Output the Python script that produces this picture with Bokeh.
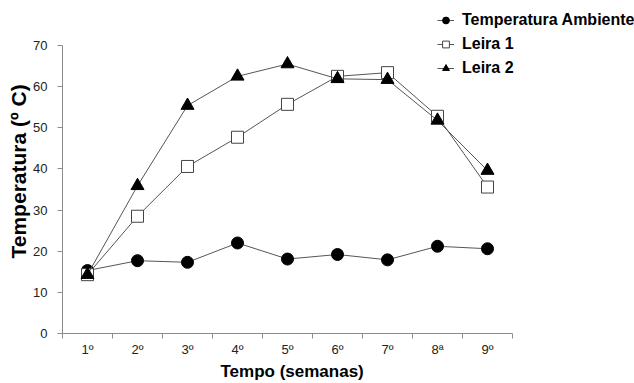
from bokeh.plotting import figure
from bokeh.models import FixedTicker, Legend, LegendItem, Title
from bokeh.embed import file_html
from bokeh.resources import INLINE

semanas = ["1º", "2º", "3º", "4º", "5º", "6º", "7º", "8ª", "9º"]
ambiente = [15.3, 17.7, 17.3, 22.0, 18.1, 19.2, 17.9, 21.2, 20.6]
leira1 = [14.3, 28.5, 40.6, 47.7, 55.7, 62.5, 63.4, 52.8, 35.6]
leira2 = [14.3, 35.9, 55.4, 62.5, 65.5, 61.9, 61.7, 51.8, 39.6]
y_ticks = [0, 10, 20, 30, 40, 50, 60, 70]

x = list(range(1, len(semanas) + 1))

# frame extended to top/right so the legend (outside the axes area) is not clipped;
# axis bounds keep the axes lines at their original extent
y_max = 70
frame_h, frame_w = 333, 572
px_per_y = 288 / y_max
px_per_x = 50
p = figure(width=634, height=383, output_backend="svg", toolbar_location=None,
           x_range=(0.5, 0.5 + frame_w / px_per_x), y_range=(0, frame_h / px_per_y),
           min_border_left=62, min_border_right=0, min_border_top=0, min_border_bottom=50)
p.outline_line_color = None
p.xgrid.visible = False
p.ygrid.visible = False
p.background_fill_color = "white"

font = "Liberation Sans"
axis_col = "#8c8c8c"

# x axis
p.xaxis.bounds = (0.5, len(semanas) + 0.5)
p.xaxis.ticker = FixedTicker(ticks=x, minor_ticks=[i + 0.5 for i in range(0, len(semanas) + 1)])
p.xaxis.major_label_overrides = {i: s for i, s in zip(x, semanas)}
p.xaxis.major_tick_line_color = None
p.xaxis.minor_tick_in = 0
p.xaxis.minor_tick_out = 5
p.xaxis.minor_tick_line_color = axis_col
p.xaxis.axis_line_color = axis_col
p.xaxis.major_label_standoff = 2
p.xaxis.major_label_text_font = font
p.xaxis.major_label_text_font_size = "13px"
p.xaxis.major_label_text_color = "#222222"

# x axis title, centred under the axes area
xt = Title(text="Tempo (semanas)", align="left", offset=158, standoff=0,
           text_font=font, text_font_style="bold", text_font_size="17px",
           text_color="black")
p.add_layout(xt, "below")

# y axis
p.yaxis.bounds = (0, y_max)
p.yaxis.ticker = FixedTicker(ticks=y_ticks, minor_ticks=[])
p.yaxis.major_tick_in = 0
p.yaxis.major_tick_out = 5
p.yaxis.major_tick_line_color = axis_col
p.yaxis.axis_line_color = axis_col
p.yaxis.major_label_standoff = 10
p.yaxis.major_label_text_font = font
p.yaxis.major_label_text_font_size = "13px"
p.yaxis.major_label_text_color = "#222222"

# y axis title, centred beside the axes area
yt = Title(text="Temperatura (º C)", align="left", offset=75, standoff=2,
           text_font=font, text_font_style="bold", text_font_size="21px",
           text_color="black")
p.add_layout(yt, "left")

line_col = "#555555"
l0 = p.line(x, ambiente, line_color=line_col, line_width=1)
s0 = p.scatter(x, ambiente, marker="circle", size=12, fill_color="black", line_color="black")
l1 = p.line(x, leira1, line_color=line_col, line_width=1)
s1 = p.scatter(x, leira1, marker="square", size=12, fill_color="white", line_color="#444444", line_width=1)
l2 = p.line(x, leira2, line_color=line_col, line_width=1)
s2 = p.scatter(x, leira2, marker="triangle", size=13, fill_color="black", line_color="black")

legend = Legend(items=[
    LegendItem(label="Temperatura Ambiente", renderers=[l0, s0]),
    LegendItem(label="Leira 1", renderers=[l1, s1]),
    LegendItem(label="Leira 2", renderers=[l2, s2]),
], location=(375, 255), orientation="vertical",
    border_line_color=None, background_fill_alpha=0,
    glyph_width=17, glyph_height=20, label_height=20, spacing=4,
    label_standoff=8, padding=0, margin=0,
    label_text_font=font, label_text_font_style="bold",
    label_text_font_size="16px", label_text_color="black")
p.add_layout(legend, "center")

open("out.html", "w").write(file_html(p, INLINE))
